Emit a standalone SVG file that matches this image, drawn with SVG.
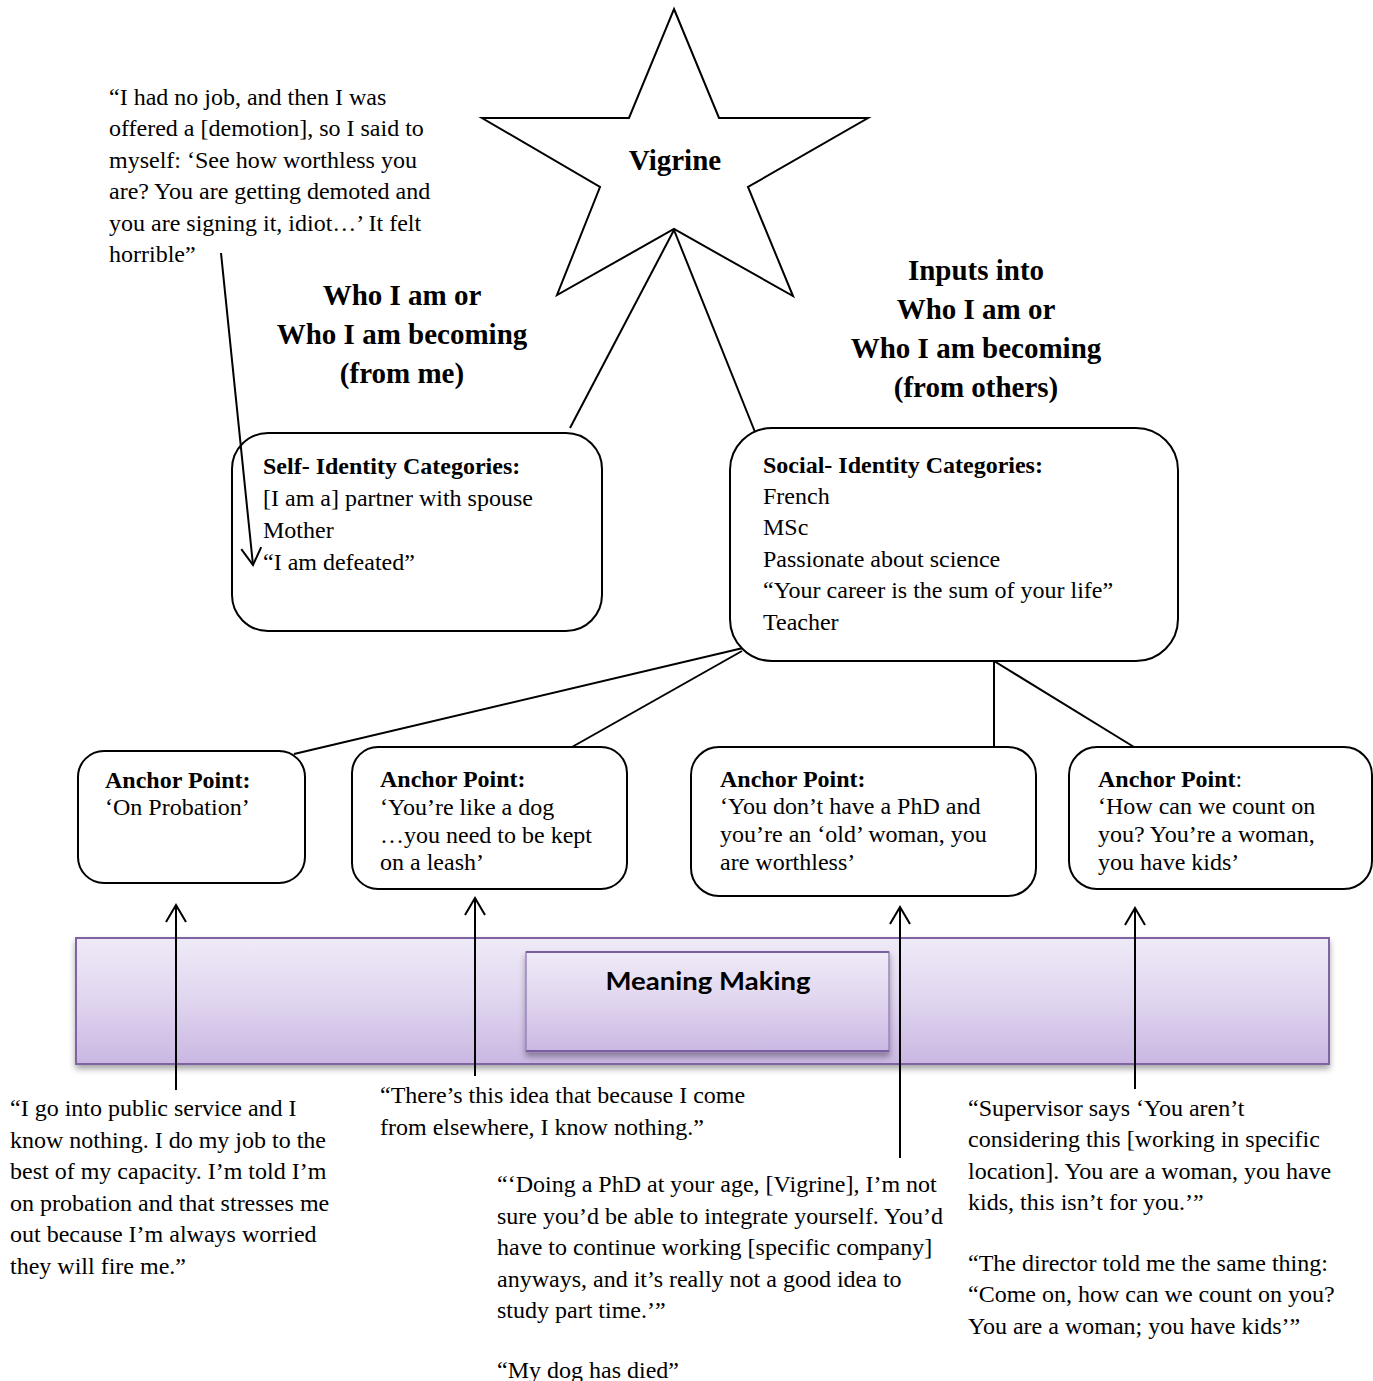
<svg xmlns="http://www.w3.org/2000/svg" width="1373" height="1381" viewBox="0 0 1373 1381">
  <style>
    .box { fill: #ffffff; stroke: #000000; stroke-width: 2; }
    .link { fill: none; stroke: #000000; stroke-width: 2; }
    .arrow { fill: none; stroke: #000000; stroke-width: 2; marker-end: url(#openHead); }
    .t { font-family: "Liberation Serif", "Times New Roman", serif; font-size: 24px; fill: #000000; }
    .b { font-weight: bold; }
    .head { font-family: "Liberation Serif", "Times New Roman", serif; font-size: 29px; font-weight: bold; fill: #000000; text-anchor: middle; }
    .mm { font-family: Lato, "Liberation Sans", sans-serif; font-size: 24px; font-weight: bold; fill: #000000; text-anchor: middle; }
  </style>
  <defs>
    <marker id="openHead" markerUnits="userSpaceOnUse" markerWidth="40" markerHeight="40" viewBox="-20 -20 40 40" refX="0" refY="0" orient="auto" overflow="visible">
      <path d="M-17,-10 L0,0 L-17,10" fill="none" stroke="#000000" stroke-width="2"/>
    </marker>
    <linearGradient id="lav" x1="0" y1="0" x2="0" y2="1">
      <stop offset="0" stop-color="#efeaf7"/>
      <stop offset="0.5" stop-color="#e0d5ef"/>
      <stop offset="1" stop-color="#c9b7e2"/>
    </linearGradient>
    <filter id="shadow" x="-5%" y="-20%" width="110%" height="150%">
      <feGaussianBlur in="SourceAlpha" stdDeviation="3"/>
      <feOffset dx="0" dy="4" result="off"/>
      <feComponentTransfer><feFuncA type="linear" slope="0.35"/></feComponentTransfer>
      <feMerge><feMergeNode/><feMergeNode in="SourceGraphic"/></feMerge>
    </filter>
  </defs>

  <rect width="1373" height="1381" fill="#ffffff"/>

  <!-- connectors -->
  <g id="connectors">
    <line class="link" x1="674" y1="230" x2="570" y2="428"/>
    <line class="link" x1="674" y1="230" x2="755" y2="432"/>
    <line class="link" x1="743" y1="648" x2="294" y2="754"/>
    <line class="link" x1="742" y1="651" x2="572" y2="747"/>
    <line class="link" x1="994" y1="661" x2="994" y2="747"/>
    <line class="link" x1="994" y1="661" x2="1134" y2="747"/>
  </g>

  <!-- central figure -->
  <g id="vigrine">
    <polygon points="674,9 719,118 868,118 748,187 793,296 674,229 557,295 600,187 482,118 629,118" fill="#ffffff" stroke="#000000" stroke-width="2" stroke-linejoin="miter"/>
    <text class="head" x="675" y="170">Vigrine</text>
  </g>

  <g id="heading-self">
    <text class="head" x="402" y="305">Who I am or</text>
    <text class="head" x="402" y="344">Who I am becoming</text>
    <text class="head" x="402" y="383">(from me)</text>
  </g>

  <g id="heading-social">
    <text class="head" x="976" y="280">Inputs into</text>
    <text class="head" x="976" y="319">Who I am or</text>
    <text class="head" x="976" y="358">Who I am becoming</text>
    <text class="head" x="976" y="397">(from others)</text>
  </g>

  <g id="self-identity">
    <rect class="box" x="232" y="433" width="370" height="198" rx="36" ry="36"/>
    <text class="t b" x="263" y="474">Self- Identity Categories:</text>
    <text class="t" x="263" y="506">[I am a] partner with spouse</text>
    <text class="t" x="263" y="538">Mother</text>
    <text class="t" x="263" y="570">“I am defeated”</text>
  </g>

  <g id="social-identity">
    <rect class="box" x="730" y="428" width="448" height="233" rx="42" ry="42"/>
    <text class="t b" x="763" y="473">Social- Identity Categories:</text>
    <text class="t" x="763" y="504">French</text>
    <text class="t" x="763" y="535">MSc</text>
    <text class="t" x="763" y="567">Passionate about science</text>
    <text class="t" x="763" y="598">“Your career is the sum of your life”</text>
    <text class="t" x="763" y="630">Teacher</text>
  </g>

  <g id="anchor-probation">
    <rect class="box" x="78" y="751" width="227" height="132" rx="26" ry="26"/>
    <text class="t b" x="105" y="788">Anchor Point:</text>
    <text class="t" x="105" y="815">‘On Probation’</text>
  </g>

  <g id="anchor-leash">
    <rect class="box" x="352" y="747" width="275" height="142" rx="26" ry="26"/>
    <text class="t b" x="380" y="787">Anchor Point:</text>
    <text class="t" x="380" y="815">‘You’re like a dog</text>
    <text class="t" x="380" y="843">…you need to be kept</text>
    <text class="t" x="380" y="870">on a leash’</text>
  </g>

  <g id="anchor-phd">
    <rect class="box" x="691" y="747" width="345" height="149" rx="28" ry="28"/>
    <text class="t b" x="720" y="787">Anchor Point:</text>
    <text class="t" x="720" y="814">‘You don’t have a PhD and</text>
    <text class="t" x="720" y="842">you’re an ‘old’ woman, you</text>
    <text class="t" x="720" y="870">are worthless’</text>
  </g>

  <g id="anchor-kids">
    <rect class="box" x="1069" y="747" width="303" height="142" rx="28" ry="28"/>
    <text class="t" x="1098" y="787"><tspan class="b">Anchor Point</tspan>:</text>
    <text class="t" x="1098" y="814">‘How can we count on</text>
    <text class="t" x="1098" y="842">you? You’re a woman,</text>
    <text class="t" x="1098" y="870">you have kids’</text>
  </g>

  <!-- meaning making band -->
  <g id="meaning-making">
    <rect x="76" y="938" width="1253" height="126" fill="url(#lav)" stroke="#8064a2" stroke-width="2" filter="url(#shadow)"/>
    <rect x="526" y="952" width="363" height="100" fill="url(#lav)" stroke="#9b85bd" stroke-width="1.5" filter="url(#shadow)"/>
    <line x1="526" y1="952" x2="889" y2="952" stroke="#7a5fa0" stroke-width="2"/>
    <line x1="526" y1="1051" x2="889" y2="1051" stroke="#7a5fa0" stroke-width="2"/>
    <text class="mm" x="708" y="990" textLength="205" lengthAdjust="spacingAndGlyphs">Meaning Making</text>
  </g>

  <!-- arrows from quotes -->
  <g id="arrows">
    <line class="arrow" x1="221" y1="253" x2="253" y2="565"/>
    <line class="arrow" x1="176" y1="1090" x2="176" y2="905"/>
    <line class="arrow" x1="475" y1="1076" x2="475" y2="898"/>
    <line class="arrow" x1="900" y1="1158" x2="900" y2="907"/>
    <line class="arrow" x1="1135" y1="1089" x2="1135" y2="908"/>
  </g>

  <g id="quote-demotion">
    <text class="t" x="109" y="105">“I had no job, and then I was</text>
    <text class="t" x="109" y="136">offered a [demotion], so I said to</text>
    <text class="t" x="109" y="168">myself: ‘See how worthless you</text>
    <text class="t" x="109" y="199">are? You are getting demoted and</text>
    <text class="t" x="109" y="231">you are signing it, idiot…’ It felt</text>
    <text class="t" x="109" y="262">horrible”</text>
  </g>

  <g id="quote-probation">
    <text class="t" x="10" y="1116">“I go into public service and I</text>
    <text class="t" x="10" y="1148">know nothing. I do my job to the</text>
    <text class="t" x="10" y="1179">best of my capacity. I’m told I’m</text>
    <text class="t" x="10" y="1211">on probation and that stresses me</text>
    <text class="t" x="10" y="1242">out because I’m always worried</text>
    <text class="t" x="10" y="1274">they will fire me.”</text>
  </g>

  <g id="quote-elsewhere">
    <text class="t" x="380" y="1103">“There’s this idea that because I come</text>
    <text class="t" x="380" y="1135">from elsewhere, I know nothing.”</text>
  </g>

  <g id="quote-phd">
    <text class="t" x="497" y="1192">“‘Doing a PhD at your age, [Vigrine], I’m not</text>
    <text class="t" x="497" y="1224">sure you’d be able to integrate yourself. You’d</text>
    <text class="t" x="497" y="1255">have to continue working [specific company]</text>
    <text class="t" x="497" y="1287">anyways, and it’s really not a good idea to</text>
    <text class="t" x="497" y="1318">study part time.’”</text>
    <text class="t" x="497" y="1378">“My dog has died”</text>
  </g>

  <g id="quote-kids">
    <text class="t" x="968" y="1116">“Supervisor says ‘You aren’t</text>
    <text class="t" x="968" y="1147">considering this [working in specific</text>
    <text class="t" x="968" y="1179">location]. You are a woman, you have</text>
    <text class="t" x="968" y="1210">kids, this isn’t for you.’”</text>
    <text class="t" x="968" y="1271">“The director told me the same thing:</text>
    <text class="t" x="968" y="1302">“Come on, how can we count on you?</text>
    <text class="t" x="968" y="1334">You are a woman; you have kids’”</text>
  </g>
</svg>
